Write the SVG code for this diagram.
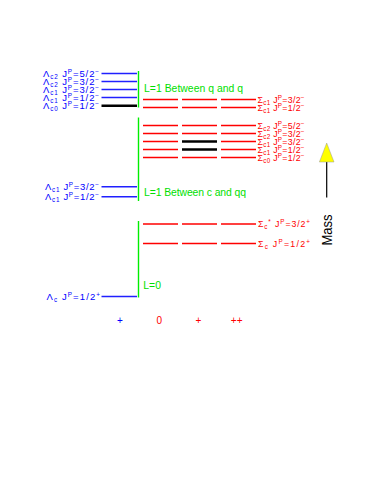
<svg xmlns="http://www.w3.org/2000/svg" width="374" height="485" viewBox="0 0 374 485">
<style>
text{font-family:"Liberation Sans",Arial,sans-serif}
.lb{font-size:9.5px;fill:#0000ff}
.lr{font-size:8.8px;fill:#ff0000}
.s{font-size:6.3px}
.bl{stroke:#2020ff;stroke-width:1.4}
.rl{stroke:#ff0000;stroke-width:1.5}
.kl{stroke:#000;stroke-width:2.6}
.gl{stroke:#00ee00;stroke-width:1.4}
.gt{font-size:10.4px;fill:#00e000}
.ch{font-size:10px}
</style>
<rect width="374" height="485" fill="#fff"/>

<g id="lambda-rho">
<line class="bl" x1="101.5" y1="73.5" x2="137" y2="73.5"/>
<line class="bl" x1="101.5" y1="81.5" x2="137" y2="81.5"/>
<line class="bl" x1="101.5" y1="89.5" x2="137" y2="89.5"/>
<line class="bl" x1="101.5" y1="97.5" x2="137" y2="97.5"/>
<line class="kl" x1="101.5" y1="105.8" x2="137" y2="105.8"/>
<text class="lb" x="43" y="76.5" textLength="56" lengthAdjust="spacing">Λ<tspan class="s" dy="2">c2</tspan><tspan dy="-2"> J</tspan><tspan class="s" dy="-3">P</tspan><tspan dy="3">=5/2</tspan><tspan class="s" dy="-3">−</tspan></text>
<text class="lb" x="43" y="84.5" textLength="56" lengthAdjust="spacing">Λ<tspan class="s" dy="2">c2</tspan><tspan dy="-2"> J</tspan><tspan class="s" dy="-3">P</tspan><tspan dy="3">=3/2</tspan><tspan class="s" dy="-3">−</tspan></text>
<text class="lb" x="43" y="92.5" textLength="56" lengthAdjust="spacing">Λ<tspan class="s" dy="2">c1</tspan><tspan dy="-2"> J</tspan><tspan class="s" dy="-3">P</tspan><tspan dy="3">=3/2</tspan><tspan class="s" dy="-3">−</tspan></text>
<text class="lb" x="43" y="100.5" textLength="56" lengthAdjust="spacing">Λ<tspan class="s" dy="2">c1</tspan><tspan dy="-2"> J</tspan><tspan class="s" dy="-3">P</tspan><tspan dy="3">=1/2</tspan><tspan class="s" dy="-3">−</tspan></text>
<text class="lb" x="43" y="108.8" textLength="56" lengthAdjust="spacing">Λ<tspan class="s" dy="2">c0</tspan><tspan dy="-2"> J</tspan><tspan class="s" dy="-3">P</tspan><tspan dy="3">=1/2</tspan><tspan class="s" dy="-3">−</tspan></text>
</g>

<g id="sigma-rho">
<line class="rl" x1="143" y1="99.5" x2="178" y2="99.5"/>
<line class="rl" x1="182" y1="99.5" x2="217" y2="99.5"/>
<line class="rl" x1="221" y1="99.5" x2="256" y2="99.5"/>
<line class="rl" x1="143" y1="107.5" x2="178" y2="107.5"/>
<line class="rl" x1="182" y1="107.5" x2="217" y2="107.5"/>
<line class="rl" x1="221" y1="107.5" x2="256" y2="107.5"/>
<text class="lr" x="257.5" y="102.5" textLength="47" lengthAdjust="spacing">Σ<tspan class="s" dy="2">c1</tspan><tspan dy="-2"> J</tspan><tspan class="s" dy="-3">P</tspan><tspan dy="3">=3/2</tspan><tspan class="s" dy="-3">−</tspan></text>
<text class="lr" x="257.5" y="110.5" textLength="47" lengthAdjust="spacing">Σ<tspan class="s" dy="2">c1</tspan><tspan dy="-2"> J</tspan><tspan class="s" dy="-3">P</tspan><tspan dy="3">=1/2</tspan><tspan class="s" dy="-3">−</tspan></text>
</g>

<g id="sigma-lambda">
<line class="rl" x1="143" y1="125.5" x2="178" y2="125.5"/>
<line class="rl" x1="182" y1="125.5" x2="217" y2="125.5"/>
<line class="rl" x1="221" y1="125.5" x2="256" y2="125.5"/>
<line class="rl" x1="143" y1="133.5" x2="178" y2="133.5"/>
<line class="rl" x1="182" y1="133.5" x2="217" y2="133.5"/>
<line class="rl" x1="221" y1="133.5" x2="256" y2="133.5"/>
<line class="rl" x1="143" y1="141.5" x2="178" y2="141.5"/>
<line class="kl" x1="182" y1="141.5" x2="217" y2="141.5"/>
<line class="rl" x1="221" y1="141.5" x2="256" y2="141.5"/>
<line class="rl" x1="143" y1="149.5" x2="178" y2="149.5"/>
<line class="kl" x1="182" y1="149.5" x2="217" y2="149.5"/>
<line class="rl" x1="221" y1="149.5" x2="256" y2="149.5"/>
<line class="rl" x1="143" y1="157.5" x2="178" y2="157.5"/>
<line class="rl" x1="182" y1="157.5" x2="217" y2="157.5"/>
<line class="rl" x1="221" y1="157.5" x2="256" y2="157.5"/>
<text class="lr" x="257.5" y="128.5" textLength="47" lengthAdjust="spacing">Σ<tspan class="s" dy="2">c2</tspan><tspan dy="-2"> J</tspan><tspan class="s" dy="-3">P</tspan><tspan dy="3">=5/2</tspan><tspan class="s" dy="-3">−</tspan></text>
<text class="lr" x="257.5" y="136.5" textLength="47" lengthAdjust="spacing">Σ<tspan class="s" dy="2">c2</tspan><tspan dy="-2"> J</tspan><tspan class="s" dy="-3">P</tspan><tspan dy="3">=3/2</tspan><tspan class="s" dy="-3">−</tspan></text>
<text class="lr" x="257.5" y="144.5" textLength="47" lengthAdjust="spacing">Σ<tspan class="s" dy="2">c1</tspan><tspan dy="-2"> J</tspan><tspan class="s" dy="-3">P</tspan><tspan dy="3">=3/2</tspan><tspan class="s" dy="-3">−</tspan></text>
<text class="lr" x="257.5" y="152.5" textLength="47" lengthAdjust="spacing">Σ<tspan class="s" dy="2">c1</tspan><tspan dy="-2"> J</tspan><tspan class="s" dy="-3">P</tspan><tspan dy="3">=1/2</tspan><tspan class="s" dy="-3">−</tspan></text>
<text class="lr" x="257.5" y="160.5" textLength="47" lengthAdjust="spacing">Σ<tspan class="s" dy="2">c0</tspan><tspan dy="-2"> J</tspan><tspan class="s" dy="-3">P</tspan><tspan dy="3">=1/2</tspan><tspan class="s" dy="-3">−</tspan></text>
</g>

<g id="lambda-lambda">
<line class="bl" x1="101.5" y1="186.8" x2="137" y2="186.8"/>
<line class="bl" x1="101.5" y1="196.8" x2="137" y2="196.8"/>
<text class="lb" x="45" y="189.8" textLength="54" lengthAdjust="spacing">Λ<tspan class="s" dy="2">c1</tspan><tspan dy="-2"> J</tspan><tspan class="s" dy="-3">P</tspan><tspan dy="3">=3/2</tspan><tspan class="s" dy="-3">−</tspan></text>
<text class="lb" x="45" y="199.8" textLength="54" lengthAdjust="spacing">Λ<tspan class="s" dy="2">c1</tspan><tspan dy="-2"> J</tspan><tspan class="s" dy="-3">P</tspan><tspan dy="3">=1/2</tspan><tspan class="s" dy="-3">−</tspan></text>
</g>

<g id="sigma-ground">
<line class="rl" x1="143" y1="224" x2="178" y2="224"/>
<line class="rl" x1="182" y1="224" x2="217" y2="224"/>
<line class="rl" x1="221" y1="224" x2="256" y2="224"/>
<line class="rl" x1="143" y1="243.5" x2="178" y2="243.5"/>
<line class="rl" x1="182" y1="243.5" x2="217" y2="243.5"/>
<line class="rl" x1="221" y1="243.5" x2="256" y2="243.5"/>
<text class="lr" x="258" y="227" textLength="52" lengthAdjust="spacing">Σ<tspan class="s" dy="2">c</tspan><tspan class="s" dy="-5">*</tspan><tspan dy="3"> J</tspan><tspan class="s" dy="-3">P</tspan><tspan dy="3">=3/2</tspan><tspan class="s" dy="-3">+</tspan></text>
<text class="lr" x="258" y="246.5" textLength="52" lengthAdjust="spacing">Σ<tspan class="s" dy="2">c</tspan><tspan dy="-2"> J</tspan><tspan class="s" dy="-3">P</tspan><tspan dy="3">=1/2</tspan><tspan class="s" dy="-3">+</tspan></text>
</g>

<g id="lambda-ground">
<line class="bl" x1="101.5" y1="296.5" x2="137" y2="296.5"/>
<text class="lb" x="46.5" y="299.5" textLength="53.5" lengthAdjust="spacing">Λ<tspan class="s" dy="2">c</tspan><tspan dy="-2"> J</tspan><tspan class="s" dy="-3">P</tspan><tspan dy="3">=1/2</tspan><tspan class="s" dy="-3">+</tspan></text>
</g>

<g id="connectors">
<line class="gl" x1="138.5" y1="71" x2="138.5" y2="107.5"/>
<line class="gl" x1="138.5" y1="117.5" x2="138.5" y2="201"/>
<line class="gl" x1="138.5" y1="221" x2="138.5" y2="297.5"/>
<line x1="326.7" y1="161" x2="326.7" y2="197.5" stroke="#000" stroke-width="1.2"/>
<polygon points="326.7,143 334,162 319.4,162" fill="#ffff00" stroke="#999" stroke-width="0.5"/>
</g>

<g id="annotations">
<text class="gt" x="144" y="91.7" textLength="99" lengthAdjust="spacing">L=1 Between q and q</text>
<text class="gt" x="144" y="195.7" textLength="102" lengthAdjust="spacing">L=1 Between c and qq</text>
<text class="gt" x="143.3" y="289">L=0</text>
<text transform="translate(331.6,230) rotate(-90)" text-anchor="middle" font-size="14" fill="#000" textLength="31" lengthAdjust="spacingAndGlyphs">Mass</text>
</g>

<g id="charges">
<text class="ch" x="120" y="324" text-anchor="middle" fill="#0000ff">+</text>
<text class="ch" x="159.3" y="324" text-anchor="middle" fill="#ff0000">0</text>
<text class="ch" x="198.3" y="324" text-anchor="middle" fill="#ff0000">+</text>
<text class="ch" x="236.7" y="324" text-anchor="middle" fill="#ff0000">++</text>
</g>
</svg>
